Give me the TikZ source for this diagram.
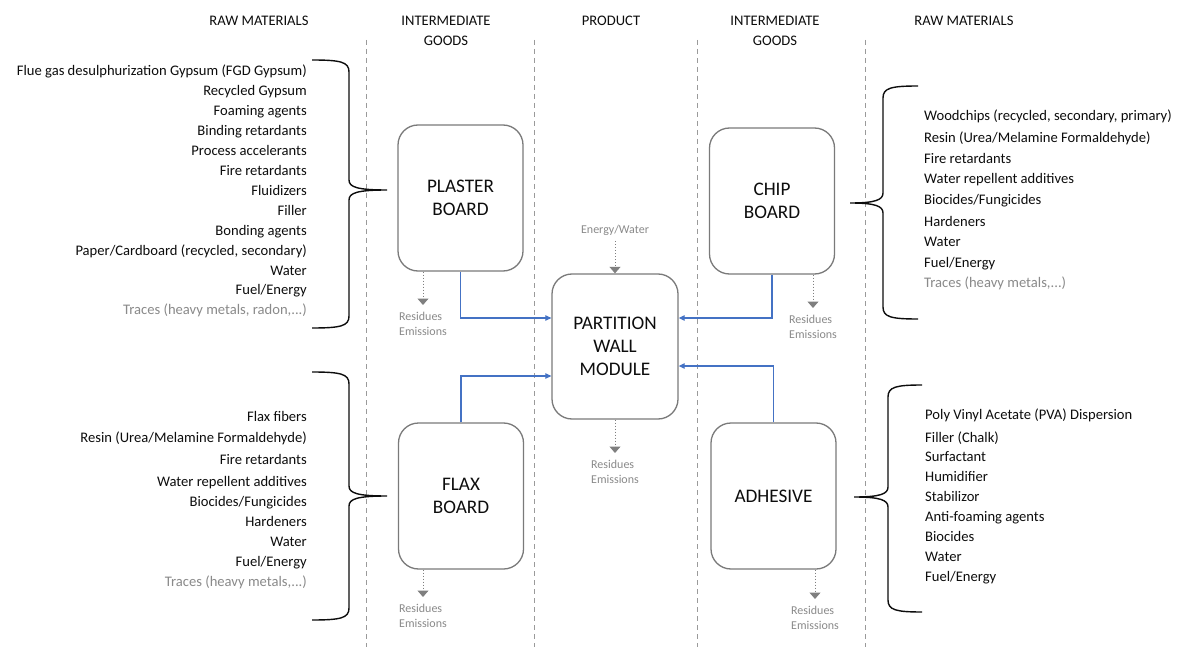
\documentclass[tikz,border=0pt]{standalone}
\usepackage{fontspec}
\setmainfont{Carlito}
\usetikzlibrary{arrows.meta,calc}

\definecolor{ink}{HTML}{0D0D0D}
\definecolor{faint}{HTML}{8A8A8A}
\definecolor{boxline}{HTML}{7A7A7A}
\definecolor{flowblue}{HTML}{4472C4}
\definecolor{sepgray}{HTML}{9A9A9A}
\definecolor{emitgray}{HTML}{7F7F7F}

\tikzset{
  header/.style={font=\fontsize{14.6}{20}\selectfont, text=ink, align=center, inner sep=0pt},
  item/.style={font=\fontsize{14.6}{18}\selectfont, text=ink, inner sep=0pt},
  trace/.style={item, text=faint},
  unit/.style={draw=boxline, line width=1.3pt, rounded corners=20pt,
    minimum width=125pt, minimum height=146pt,
    font=\fontsize{19.2}{23}\selectfont, text=ink, align=center, inner sep=0pt},
  emitnote/.style={font=\fontsize{12}{15}\selectfont, text=faint, align=left,
    inner sep=0pt, outer ysep=7pt, anchor=north},
  flow/.style={draw=flowblue, line width=1.2pt, -{Triangle[length=6pt,width=5.5pt]}},
  emit/.style={draw=emitgray, line width=1pt, dotted,
    -{Triangle[length=6.5pt,width=11pt,fill=emitgray]}},
  separator/.style={draw=sepgray, line width=0.9pt, dash pattern=on 5pt off 4pt},
  brace/.style={draw=ink, line width=1.4pt},
}

\begin{document}
\begin{tikzpicture}[x=1pt,y=-1pt]
\path[use as bounding box, fill=white] (0,0) rectangle (1183,647);

% column separators
\draw[separator] (366,40) -- (366,647);
\draw[separator] (534,40) -- (534,647);
\draw[separator] (697,40) -- (697,647);
\draw[separator] (865,40) -- (865,647);

% column headings
\node[header] (hRawL)  at (259,21) {RAW MATERIALS};
\node[header] (hIntL)  at (446,31) {INTERMEDIATE\\GOODS};
\node[header] (hProd)  at (611,21) {PRODUCT};
\node[header] (hIntR)  at (775,31) {INTERMEDIATE\\GOODS};
\node[header] (hRawR)  at (964,21) {RAW MATERIALS};

% process units
\node[unit] (plaster)   at (460.5,198) {PLASTER\\BOARD};
\node[unit] (chip)      at (772,201)   {CHIP\\BOARD};
\node[unit, minimum width=126pt, minimum height=145pt] (partition) at (615,346.5) {PARTITION\\WALL\\MODULE};
\node[unit] (flax)      at (461,496)   {FLAX\\BOARD};
\node[unit] (adhesive)  at (773.5,496) {ADHESIVE};

% material flows into the module
\draw[flow] (plaster.south) |- ($(partition.west)+(0,-28.5)$);
\draw[flow] (flax.north) |- ($(partition.west)+(0,29.5)$);
\draw[flow] (chip.south) |- ($(partition.east)+(0,-28.5)$);
\draw[flow] (adhesive.north) |- ($(partition.east)+(0,19.5)$);

% energy input
\node[font=\fontsize{12}{15}\selectfont, text=faint, inner sep=0pt, outer ysep=6pt] (energy) at (615,230) {Energy/Water};
\draw[emit] (energy.south) -- (energy.south |- partition.north);

% residues and emissions
\node[emitnote] (resPlaster)   at (423,305) {Residues\\Emissions};
\node[emitnote] (resChip)      at (813,308) {Residues\\Emissions};
\node[emitnote] (resPartition) at (615,453) {Residues\\Emissions};
\node[emitnote] (resFlax)      at (423,597) {Residues\\Emissions};
\node[emitnote] (resAdhesive)  at (815,599) {Residues\\Emissions};
\draw[emit] (plaster.south -| resPlaster.north) -- (resPlaster.north);
\draw[emit] (chip.south -| resChip.north) -- (resChip.north);
\draw[emit] (partition.south -| resPartition.north) -- (resPartition.north);
\draw[emit] (flax.south -| resFlax.north) -- (resFlax.north);
\draw[emit] (adhesive.south -| resAdhesive.north) -- (resAdhesive.north);

% plaster board inputs
\foreach \yy/\tx [count=\i] in {
  76/{Flue gas desulphurization Gypsum (FGD Gypsum)},
  95.9/{Recycled Gypsum},
  115.8/{Foaming agents},
  135.7/{Binding retardants},
  155.6/{Process accelerants},
  175.5/{Fire retardants},
  195.4/{Fluidizers},
  215.3/{Filler},
  235.2/{Bonding agents},
  255.1/{Paper/Cardboard (recycled, secondary)},
  275/{Water},
  294.9/{Fuel/Energy}}
  \node[item, anchor=base east] (pl\i) at (307,\yy) {\tx};
\node[trace, anchor=base east] (plTrace) at (307,314.8) {Traces (heavy metals, radon,...)};

% flax board inputs
\foreach \yy/\tx [count=\i] in {
  421/{Flax fibers},
  442/{Resin (Urea/Melamine Formaldehyde)},
  464/{Fire retardants},
  486/{Water repellent additives},
  506/{Biocides/Fungicides},
  526/{Hardeners},
  546/{Water},
  566/{Fuel/Energy}}
  \node[item, anchor=base east] (fl\i) at (307,\yy) {\tx};
\node[trace, anchor=base east] (flTrace) at (307,586) {Traces (heavy metals,...)};

% chip board inputs
\foreach \yy/\tx [count=\i] in {
  121/{Woodchips (recycled, secondary, primary)},
  143/{Resin (Urea/Melamine Formaldehyde)},
  164/{Fire retardants},
  184/{Water repellent additives},
  205/{Biocides/Fungicides},
  226/{Hardeners},
  247/{Water},
  267/{Fuel/Energy}}
  \node[item, anchor=base west] (ch\i) at (924,\yy) {\tx};
\node[trace, anchor=base west] (chTrace) at (924,287) {Traces (heavy metals,...)};

% adhesive inputs
\foreach \yy/\tx [count=\i] in {
  419/{Poly Vinyl Acetate (PVA) Dispersion},
  442/{Filler (Chalk)},
  461/{Surfactant},
  481/{Humidifier},
  501/{Stabilizor},
  521/{Anti-foaming agents},
  541/{Biocides},
  561/{Water},
  581/{Fuel/Energy}}
  \node[item, anchor=base west] (ad\i) at (925,\yy) {\tx};

% grouping braces
\draw[brace] (312,60) .. controls (341,60) and (349,62) .. (349,72) -- (349,180)
  .. controls (349,187) and (357,190) .. (387,190)
  .. controls (357,190) and (349,193) .. (349,200) -- (349,316)
  .. controls (349,326) and (341,328) .. (312,328);
\draw[brace] (312,372) .. controls (341,372) and (349,374) .. (349,384) -- (349,486)
  .. controls (349,493) and (357,496) .. (387,496)
  .. controls (357,496) and (349,499) .. (349,506) -- (349,608)
  .. controls (349,618) and (341,620) .. (312,620);
\draw[brace] (918,86) .. controls (891,86) and (883,88) .. (883,98) -- (883,193)
  .. controls (883,200) and (875,203) .. (850,203)
  .. controls (875,203) and (883,206) .. (883,213) -- (883,307)
  .. controls (883,317) and (891,319) .. (918,319);
\draw[brace] (922,385) .. controls (896,385) and (888,387) .. (888,397) -- (888,487)
  .. controls (888,494) and (880,497) .. (854,497)
  .. controls (880,497) and (888,500) .. (888,507) -- (888,600)
  .. controls (888,610) and (896,612) .. (922,612);
\end{tikzpicture}
\end{document}
